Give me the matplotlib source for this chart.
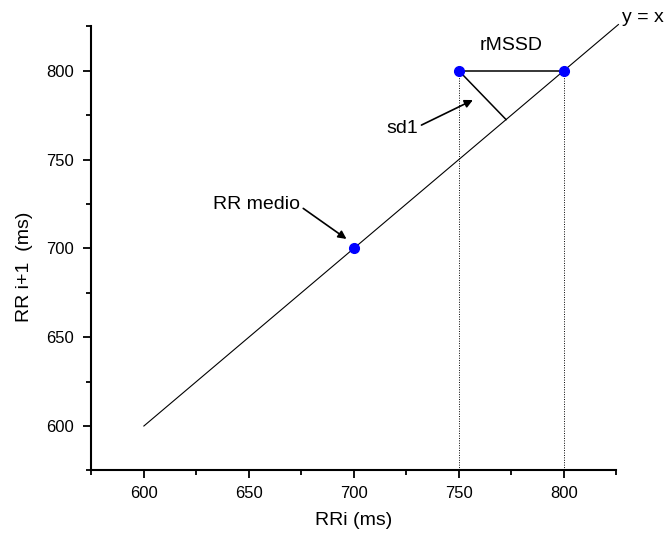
import matplotlib
matplotlib.use("Agg")
import matplotlib.pyplot as plt
from matplotlib.ticker import MultipleLocator

plt.rcParams['font.family'] = ['Liberation Sans', 'DejaVu Sans']

# dati
identity_x = [600, 826]
points_x = [700, 750, 800]
points_y = [700, 800, 800]
rmssd_x = [750, 800]
rmssd_y = [800, 800]
sd1_x = [750, 772.5]
sd1_y = [800, 772.5]
drop_x = [750, 800]
drop_top = 800
x_ticks = [600, 650, 700, 750, 800]
y_ticks = [600, 650, 700, 750, 800]

fig = plt.figure(figsize=(6.67, 5.37), dpi=100)
ax = fig.add_axes([0.137, 0.124, 0.787, 0.827])

# linea y = x
ax.plot(identity_x, identity_x, color='black', lw=0.8, clip_on=False)
ax.text(827.6, 827.6, 'y = x', fontsize=14, ha='left', va='baseline')

# linee verticali tratteggiate
for xv in drop_x:
    ax.plot([xv, xv], [575, drop_top], color='black', lw=0.7, ls=(0, (1, 1.5)))

# rMSSD e sd1
ax.plot(rmssd_x, rmssd_y, color='black', lw=1.1)
ax.plot(sd1_x, sd1_y, color='black', lw=1.1)
ax.plot(points_x, points_y, 'o', color='#0000ff', ms=7, zorder=5)

ax.text(775, 811.7, 'rMSSD', fontsize=14, ha='center', va='baseline')
ax.text(730.6, 764.9, 'sd1', fontsize=14, ha='right', va='baseline')
ax.annotate('', xy=(756.7, 783.5), xytext=(732.2, 769.4),
            arrowprops=dict(arrowstyle='-|>', color='black', lw=1.2,
                            mutation_scale=12, shrinkA=0, shrinkB=0))
ax.text(653.8, 722.2, 'RR medio', fontsize=14, ha='center', va='baseline')
ax.annotate('', xy=(696.5, 705.3), xytext=(675.9, 722.5),
            arrowprops=dict(arrowstyle='-|>', color='black', lw=1.2,
                            mutation_scale=12, shrinkA=0, shrinkB=0))

ax.set_xlim(575, 825)
ax.set_ylim(575, 825)
ax.set_xticks(x_ticks)
ax.set_yticks(y_ticks)
ax.xaxis.set_minor_locator(MultipleLocator(25))
ax.yaxis.set_minor_locator(MultipleLocator(25))
ax.spines['top'].set_visible(False)
ax.spines['right'].set_visible(False)
for s in ['left', 'bottom']:
    ax.spines[s].set_linewidth(1.5)
ax.tick_params(which='major', length=6, width=1.3, labelsize=12, pad=5)
ax.tick_params(axis='y', which='major', pad=6.5)
ax.tick_params(which='minor', length=3.5, width=1.3)

ax.set_xlabel('RRi (ms)', fontsize=14, labelpad=8)
ax.set_ylabel('RR i+1  (ms)', fontsize=14)
ax.yaxis.set_label_coords(-0.111, 0.458)

fig.savefig('out.png', dpi=100)
